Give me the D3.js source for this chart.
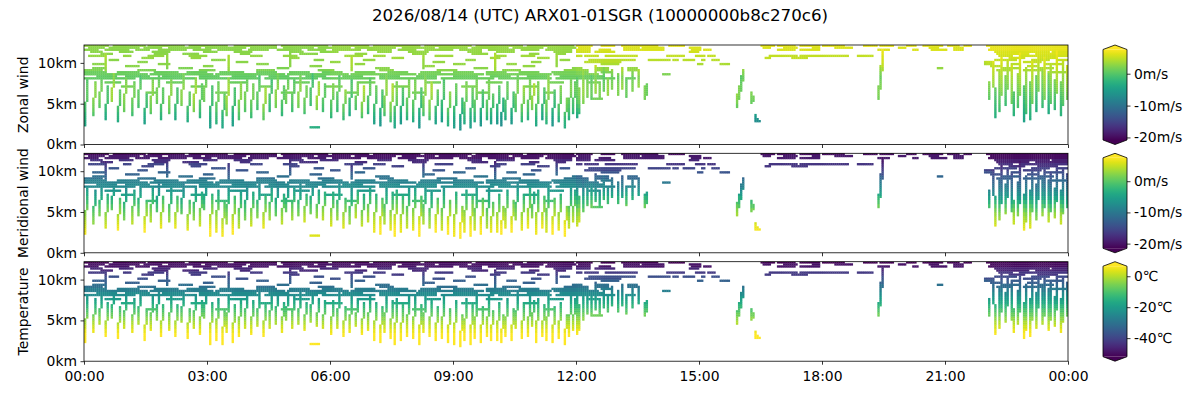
<!DOCTYPE html>
<html>
<head>
<meta charset="utf-8">
<script src="https://cdn.jsdelivr.net/npm/d3@7"></script>
<style>
  body { margin: 0; background: #fff; }
  text { font-family: "DejaVu Sans", sans-serif; fill: #000; }
</style>
</head>
<body>
<div id="chart"></div>
<script>
// ---- data ----
const titleText = "2026/08/14 (UTC) ARX01-01SGR (10000000b8c270c6)";
const panelNames = ["Zonal wind", "Meridional wind", "Temperature"];
const unitNames = ["m/s", "m/s", "\u2103"];
const colorTicks = [[0, -10, -20], [0, -10, -20], [0, -20, -40]];
const colorRanges = [[-20.8, 7.6], [-21.5, 7.5], [-52, 6.5]];
const altTicks = [0, 5, 10];
const altTop = 12.192;      // km
const binMinutes = 3;       // one column = 3 min
const binKm = 0.25;         // one row = 250 m

// columns where the 4 profile blocks start (00h, 06h, 12h, 22h)
const blockStarts = [0, 120, 240, 440];

// profiles per 0.5 km (0 .. 12 km), one row per block
const zonalProfiles = [
  [-3.5,-3.5,-3.5,-3.5, -3,-2.5,-1.5,-1, 0,0.5,1,1.5, 1.5,1.5,1.5,1, 0.5,1,2,2.5, 2.5,3,2.5,2.5,3],
  [-4.5,-4.5,-4.5,-4.5, -4,-3.5,-2.5,-1.5, -0.5,0,0.5,1, 1.5,2,2,1.5, 1,1.5,2.5,3, 3,3.5,3,3,3.5],
  [-4,-4,-4,-4.5, -4.5,-4,-3,-2, -1,0,1,1.5, 2,2,2,1.5, 1,2,3,4, 4.5,5,5.5,6,6.5],
  [-2.5,-2.5,-2.5,-3, -3,-2.5,-2,-1.5, -1,-0.5,0,0.5, 1,1.5,2,2.5, 3,3.5,4,4.5, 5,5.5,6,6.5,6.5]
];
const meridProfiles = [
  [6,6,6,6, 6,5.5,4.5,3.5, 2.5,1.5,0.5,-0.5, -2,-3.5,-5,-6.5, -8,-9,-11,-12.5, -14,-15.5,-17.5,-19.5,-21],
  [6,6,6,6, 6,5.5,5,4, 3,2,1,0, -1.5,-3,-4.5,-6, -7.5,-9,-10.5,-12, -14,-16,-18,-20,-21],
  [6,6,6,6, 6,6,5.5,4.5, 3.5,2.5,1.5,0, -1.5,-3,-5,-7, -8.5,-10,-12,-14, -15.5,-17,-18.5,-19.5,-20.5],
  [6,6,6,6, 6,6,5,4, 3,2,0.5,-1, -3,-5,-7,-8.5, -10,-11.5,-13,-14.5, -16,-17.5,-19,-20.5,-21]
];
const tempProfiles = [
  [24,21,18,15, 12,9,6.5,4.5, 2,-1,-4,-7, -10,-13.5,-17,-20.5, -24,-27.5,-31,-34.5, -38,-42,-45.5,-49,-52],
  [24,21,18,15, 12,9,6.5,4.5, 2,-1,-4,-7, -10,-13.5,-17,-20.5, -24,-27.5,-31,-34.5, -38,-42,-45.5,-49,-52],
  [24,21,18,15, 12,9,7,5, 2.5,-0.5,-3.5,-6.5, -9.5,-13,-16.5,-20, -23.5,-27,-30.5,-34, -38,-42,-45.5,-49,-52],
  [24,21,18,15, 12,9,7,5, 2.5,-0.5,-3.5,-7, -10,-13.5,-17,-20.5, -24,-28,-31.5,-35, -39,-43,-46.5,-50,-52]
];

// ascents / descents: [column, lowest row, highest row, zonal offset, meridional offset]
const vRuns = [
  [0,9,20,-1,1],[1,21,31,-1,1],[4,14,22,1,-1],[5,23,30,1,-1],[7,18,25,0,0],[8,26,33,0,0],[10,12,19,-2,1],[11,20,28,-2,1],
  [13,21,27,2,0],[14,28,34,2,0],[16,11,18,-1,2],[17,19,26,-1,2],[19,16,24,1,-1],[20,25,32,1,-1],
  [23,14,22,0,1],[24,23,30,0,1],[26,18,26,-1,0],[27,27,33,-1,0],[29,10,17,-2,2],[30,18,24,-2,2],
  [32,15,23,1,1],[33,24,31,1,1],[35,20,27,0,-1],[36,28,34,0,-1],[37,12,19,-1,2],[38,20,27,-1,2],
  [41,15,23,1,0],[42,24,31,1,0],[44,12,19,-2,2],[45,20,27,-2,2],[47,19,26,1,-1],[48,27,34,1,-1],[50,11,18,-1,1],[51,19,25,-1,1],
  [53,16,24,2,0],[54,25,32,2,0],[56,13,21,-1,1],[57,22,29,-1,1],[58,21,27,0,0],[59,28,33,0,0],
  [61,8,18,-2,2],[62,19,28,-2,2],[64,10,20,0,1],[65,21,30,0,1],[67,8,16,-1,1],[68,17,24,-1,1],[69,14,23,2,0],[70,24,32,2,0],
  [72,9,18,-2,2],[73,19,27,-2,2],[75,12,21,1,0],[76,22,30,1,0],[78,16,25,0,-1],[79,26,33,0,-1],
  [81,13,21,0,1],[82,22,29,0,1],[84,17,25,-1,0],[85,26,33,-1,0],[87,12,19,2,2],[88,20,27,2,2],[90,16,24,-2,1],[91,25,31,-2,1],
  [93,18,26,1,-1],[94,27,34,1,-1],[96,14,21,-1,1],[97,22,28,-1,1],[98,20,26,0,0],[99,27,32,0,0],
  [101,16,24,-1,1],[102,25,31,-1,1],[104,18,25,1,0],[105,26,33,1,0],[107,15,22,0,2],[108,23,28,0,2],
  [110,19,27,-2,0],[111,28,34,-2,0],[113,17,23,2,1],[114,24,30,2,1],[116,16,22,-1,2],[117,23,29,-1,2],
  [120,13,21,0,1],[121,22,29,0,1],[123,16,25,-1,0],[124,26,33,-1,0],[126,12,19,1,1],[127,20,26,1,1],[129,14,22,-2,-1],[130,23,31,-2,-1],
  [132,17,23,0,2],[133,24,30,0,2],[135,13,20,2,0],[136,21,28,2,0],[138,15,23,-1,1],[139,24,32,-1,1],
  [141,10,19,-1,1],[142,20,28,-1,1],[144,9,17,-2,2],[145,18,26,-2,2],[146,14,23,1,0],[147,24,33,1,0],[149,11,20,2,1],[150,21,29,2,1],
  [151,8,18,0,2],[152,19,30,0,2],[154,10,18,-2,1],[155,19,27,-2,1],[157,12,22,0,0],[158,23,32,0,0],
  [160,11,21,0,1],[161,22,31,0,1],[163,8,17,-2,2],[164,18,27,-2,2],[165,14,23,1,0],[166,24,33,1,0],[168,12,21,2,-1],[169,22,30,2,-1],
  [171,10,18,-1,2],[172,19,26,-1,2],[174,11,21,-2,0],[175,22,31,-2,0],[177,9,17,1,2],[178,18,25,1,2],
  [180,8,18,-1,1],[181,19,29,-1,1],[183,7,14,-2,2],[184,15,22,-2,2],[185,10,20,0,1],[186,21,30,0,1],[188,8,17,-1,2],[189,18,27,-1,2],
  [190,11,21,0,0],[191,22,32,0,0],[193,9,17,-2,2],[194,18,26,-2,2],[196,12,21,0,-1],[197,22,31,0,-1],[198,10,17,-1,1],[199,18,24,-1,1],
  [201,10,19,-2,1],[202,20,28,-2,1],[203,9,15,-3,2],[204,16,22,-3,2],[205,12,21,-1,1],[206,22,30,-1,1],[208,10,17,-2,2],[209,18,25,-2,2],
  [210,16,24,0,0],[211,25,33,0,0],[213,11,19,1,1],[214,20,28,1,1],[216,12,21,0,2],[217,22,31,0,2],[218,17,23,2,0],[219,24,29,2,0],
  [220,9,19,0,1],[221,20,30,0,1],[223,12,19,-2,2],[224,20,27,-2,2],[225,10,21,1,0],[226,22,33,1,0],[228,9,17,-2,2],[229,18,26,-2,2],
  [231,11,19,0,1],[232,20,28,0,1],[234,8,15,1,2],[235,16,22,1,2],[236,12,22,0,0],[237,23,32,0,0],[238,15,22,-1,1],[239,23,30,-1,1],
  [10,36,44,1,-1],[40,37,45,0,0],[70,36,43,1,-1],[100,38,46,0,0],[130,36,42,1,-1],[165,37,45,0,0],[200,36,44,1,-1],[230,38,45,0,0],
  [240,13,32,-1,0],[241,15,27,0,1],[243,20,35,1,-1],[245,23,36,0,0],[247,22,33,-1,1],[249,25,38,1,0],[251,22,30,0,-1],[253,26,37,-1,1],[255,24,32,1,0],[257,27,36,0,0],
  [260,24,34,0,0],[262,27,37,1,-1],[264,23,31,-1,1],[267,26,35,0,0],[270,28,36,1,0],[273,22,28,0,1],[274,24,29,-1,0],
  [318,18,24,1,1],[319,22,28,0,0],[320,26,33,-1,-1],[321,31,36,0,0],[325,20,25,0,0],[326,21,23,0,0],[327,11,14,-3,1],[328,11,12,-3,1],[329,11,11,-3,1],
  [387,22,28,0,1],[388,27,38,0,0],[389,36,46,1,-1],
  [441,22,30,0,0],[443,28,40,1,-1],[444,13,27,-1,1],[446,16,36,0,0],[447,24,42,1,-1],[449,19,33,-1,1],[450,27,41,0,0],[452,20,38,1,-1],[453,14,25,-1,1],[455,18,34,0,0],[456,24,44,1,-1],[458,11,28,-2,1],[459,15,37,0,0],
  [461,12,30,-1,1],[462,20,40,1,0],[464,16,33,-2,-1],[465,26,44,0,0],[467,18,36,-1,1],[468,22,42,1,0],[470,15,34,-2,1],[471,20,39,0,-1],[473,17,31,-1,1],[474,25,45,1,0],[476,14,30,-1,1],[477,19,40,0,0],[479,22,38,1,-1]
];

// level flight: [row, first column, last column]
const hRuns = [
  [48,0,11],[48,14,29],[48,31,48],[48,51,69],[48,73,93],[48,96,118],[48,121,138],[48,141,163],[48,166,188],[48,191,213],[48,216,238],[48,240,247],[48,252,258],[48,262,279],[48,285,292],[48,330,336],[48,338,346],[48,349,358],[48,360,370],[48,380,386],[48,388,394],[48,401,405],[48,409,418],[48,421,426],[48,429,432],[48,440,479],
  [47,2,9],[47,12,26],[47,29,37],[47,41,56],[47,59,78],[47,81,93],[47,97,111],[47,114,129],[47,132,151],[47,155,170],[47,173,186],[47,189,206],[47,209,223],[47,226,239],[47,241,246],[47,263,270],[47,272,282],[47,295,300],[47,331,334],[47,341,347],[47,355,358],[47,366,374],[47,397,400],[47,412,416],[47,424,428],[47,442,479],
  [46,0,6],[46,10,21],[46,25,31],[46,36,49],[46,53,61],[46,65,76],[46,80,89],[46,94,105],[46,109,117],[46,121,134],[46,138,149],[46,153,161],[46,166,179],[46,183,193],[46,197,209],[46,213,221],[46,225,237],[46,240,246],[46,251,256],[46,263,282],[46,296,300],[46,302,305],[46,338,346],[46,349,353],[46,354,358],[46,387,392],[46,404,406],[46,413,420],[46,424,428],[46,441,479],
  [45,3,8],[45,17,23],[45,33,41],[45,58,64],[45,73,81],[45,101,106],[45,115,123],[45,143,149],[45,158,167],[45,187,193],[45,201,209],[45,229,237],[45,240,246],[45,249,258],[45,295,299],[45,444,470],[45,472,479],
  [44,8,13],[44,34,39],[44,48,55],[44,76,80],[44,105,113],[44,132,137],[44,160,166],[44,189,196],[44,217,221],[44,230,234],[44,445,460],[44,464,479],
  [43,2,9],[43,19,22],[43,31,38],[43,51,59],[43,81,86],[43,97,103],[43,127,135],[43,141,146],[43,171,179],[43,200,205],[43,213,219],[43,240,242],[43,244,250],[43,254,269],[43,284,292],[43,298,302],[43,304,307],[43,334,339],[43,340,347],[43,349,372],[43,377,380],[43,381,384],[43,446,452],[43,456,479],
  [42,28,33],[42,52,56],[42,100,104],[42,150,155],[42,198,202],[42,221,226],[42,332,334],[42,345,352],[42,451,458],[42,466,474],
  [41,12,16],[41,62,68],[41,112,116],[41,136,141],[41,186,190],[41,232,236],[41,246,264],[41,265,268],[41,275,279],[41,280,285],[41,287,289],[41,292,297],[41,301,302],[41,306,309],[41,444,454],[41,462,470],[41,474,479],
  [40,26,30],[40,74,79],[40,120,124],[40,170,175],[40,218,222],[40,244,248],[40,249,261],[40,439,443],[40,458,466],
  [39,4,10],[39,36,41],[39,84,89],[39,132,136],[39,180,185],[39,206,210],[39,252,260],[39,299,301],[39,310,314],[39,439,443],[39,452,456],[39,468,476],
  [38,20,26],[38,58,62],[38,110,115],[38,166,170],[38,214,219],[38,442,446],[38,460,464],
  [37,4,9],[37,46,52],[37,94,99],[37,142,148],[37,190,196],[37,238,242],[37,250,255],[37,265,269],[37,416,418],[37,447,455],[37,466,472],
  [36,0,8],[36,26,34],[36,56,63],[36,84,92],[36,114,121],[36,144,150],[36,172,181],[36,204,212],[36,234,244],[36,250,255],[36,265,269],[36,445,452],[36,458,468],
  [35,0,10],[35,16,26],[35,34,45],[35,50,59],[35,66,77],[35,84,93],[35,100,109],[35,116,125],[35,132,141],[35,148,157],[35,164,173],[35,180,189],[35,196,205],[35,212,221],[35,228,245],[35,252,256],[35,470,478],
  [34,0,30],[34,32,62],[34,64,97],[34,99,128],[34,130,161],[34,163,194],[34,196,227],[34,229,250],[34,282,285],
  [33,6,15],[33,20,31],[33,38,47],[33,56,65],[33,72,83],[33,90,99],[33,108,117],[33,126,135],[33,144,153],[33,162,171],[33,180,191],[33,198,207],[33,216,225],[33,232,252],
  [32,0,24],[32,28,53],[32,56,85],[32,88,113],[32,116,141],[32,144,171],[32,174,199],[32,202,227],[32,230,258],[32,264,268],
  [30,10,17],[30,40,47],[30,70,79],[30,102,109],[30,134,141],[30,166,173],[30,196,203],[30,226,233],[30,245,250],
  [28,18,23],[28,52,59],[28,86,91],[28,118,125],[28,150,157],[28,184,191],[28,214,221],
  [25,30,35],[25,64,69],[25,96,101],[25,128,133],[25,160,165],[25,192,197],[25,224,229],
  [22,248,252],
  [8,110,114]
];

// ---- layout ----
const W = 1200, H = 400;
const plotL = 84, plotR = 1068;
const panelTops = [45, 153.3, 261.7];
const panelH = 99.5;
const cbX = 1103, cbW = 24, cbTip = 4.5;
const tickFont = 13.9;

const svg = d3.select("#chart").append("svg")
  .attr("width", W).attr("height", H)
  .attr("xmlns", "http://www.w3.org/2000/svg");

svg.append("text")
  .attr("x", W / 2).attr("y", 21)
  .attr("text-anchor", "middle")
  .style("font-size", "16.7px")
  .text(titleText);

const t0 = new Date(Date.UTC(2026, 7, 14));
const t1 = new Date(Date.UTC(2026, 7, 15));
const x = d3.scaleUtc().domain([t0, t1]).range([plotL, plotR]);
const colTime = c => new Date(t0.getTime() + c * binMinutes * 60000);

// merge runs into cells (one per column/row)
const cells = new Map();
hRuns.forEach(([r, c0, c1]) => {
  for (let c = c0; c <= c1; c++) cells.set(c * 64 + r, { c: c, r: r, o: [0, 0, 0] });
});
vRuns.forEach(([c, lo, hi, dz, dm]) => {
  for (let r = lo; r <= hi; r++) cells.set(c * 64 + r, { c: c, r: r, o: [dz, dm, 0] });
});
const cellList = Array.from(cells.values());

const blockOf = c => {
  let b = 0;
  blockStarts.forEach((s, i) => { if (c >= s) b = i; });
  return b;
};
const allProfiles = [zonalProfiles, meridProfiles, tempProfiles];

panelNames.forEach((name, p) => {
  const top = panelTops[p], bot = top + panelH;
  const y = d3.scaleLinear().domain([0, altTop]).range([bot, top]);
  const color = d3.scaleSequential(d3.interpolateViridis).domain(colorRanges[p]).clamp(true);
  const g = svg.append("g");

  g.append("clipPath").attr("id", "clip" + p)
    .append("rect").attr("x", plotL).attr("y", top)
    .attr("width", plotR - plotL).attr("height", panelH);

  g.append("g").attr("clip-path", "url(#clip" + p + ")")
    .selectAll("rect").data(cellList).join("rect")
      .attr("x", d => x(colTime(d.c)))
      .attr("width", d => x(colTime(d.c + 1)) - x(colTime(d.c)) + 0.3)
      .attr("y", d => y((d.r + 1) * binKm))
      .attr("height", d => y(d.r * binKm) - y((d.r + 1) * binKm) + 0.3)
      .attr("fill", d => {
        const prof = allProfiles[p][blockOf(d.c)];
        return color(prof[Math.min(prof.length - 1, d.r >> 1)] + d.o[p]);
      });

  // axes
  const yAxis = d3.axisLeft(y).tickValues(altTicks)
    .tickFormat(d => d + "km").tickSize(3.5).tickPadding(3.5).tickSizeOuter(0);
  const ya = g.append("g").attr("transform", "translate(" + plotL + ",0)").call(yAxis);

  const xAxis = d3.axisBottom(x).ticks(d3.utcHour.every(3))
    .tickFormat(p === 2 ? d3.utcFormat("%H:%M") : () => "")
    .tickSize(3.5).tickPadding(6).tickSizeOuter(0);
  const xa = g.append("g").attr("transform", "translate(0," + bot + ")").call(xAxis);

  [ya, xa].forEach(a => {
    a.select(".domain").remove();
    a.selectAll("line").attr("stroke", "#000").attr("stroke-width", 0.8);
    a.selectAll("text").style("font-size", tickFont + "px")
      .style("font-family", "DejaVu Sans").attr("fill", "#000");
  });

  g.append("rect").attr("x", plotL).attr("y", top)
    .attr("width", plotR - plotL).attr("height", panelH)
    .attr("fill", "none").attr("stroke", "#000").attr("stroke-width", 0.8);

  g.append("text")
    .attr("transform", "translate(28," + (top + panelH / 2) + ") rotate(-90)")
    .attr("text-anchor", "middle")
    .style("font-size", tickFont + "px")
    .text(name);

  // colorbar
  const bTop = top + cbTip, bBot = bot - cbTip;
  const gradId = "grad" + p;
  const grad = svg.append("defs").append("linearGradient").attr("id", gradId)
    .attr("x1", 0).attr("y1", 1).attr("x2", 0).attr("y2", 0);
  d3.range(0, 1.0001, 0.05).forEach(t => {
    grad.append("stop").attr("offset", t).attr("stop-color", d3.interpolateViridis(t));
  });
  const cx = cbX + cbW / 2;
  g.append("path")
    .attr("d", `M${cbX},${bTop}L${cx},${top}L${cbX + cbW},${bTop}Z`)
    .attr("fill", d3.interpolateViridis(1));
  g.append("path")
    .attr("d", `M${cbX},${bBot}L${cx},${bot}L${cbX + cbW},${bBot}Z`)
    .attr("fill", d3.interpolateViridis(0));
  g.append("rect").attr("x", cbX).attr("y", bTop)
    .attr("width", cbW).attr("height", bBot - bTop)
    .attr("fill", "url(#" + gradId + ")");
  g.append("path")
    .attr("d", `M${cbX},${bTop}L${cx},${top}L${cbX + cbW},${bTop}L${cbX + cbW},${bBot}L${cx},${bot}L${cbX},${bBot}Z`)
    .attr("fill", "none").attr("stroke", "#000").attr("stroke-width", 0.8);

  const cScale = d3.scaleLinear().domain(colorRanges[p]).range([bBot, bTop]);
  const cAxis = d3.axisRight(cScale).tickValues(colorTicks[p])
    .tickFormat(d => d + unitNames[p]).tickSize(3.5).tickPadding(3.5).tickSizeOuter(0);
  const ca = g.append("g").attr("transform", "translate(" + (cbX + cbW) + ",0)").call(cAxis);
  ca.select(".domain").remove();
  ca.selectAll("line").attr("stroke", "#000").attr("stroke-width", 0.8);
  ca.selectAll("text").style("font-size", tickFont + "px")
    .style("font-family", "DejaVu Sans").attr("fill", "#000");
});
</script>
</body>
</html>
